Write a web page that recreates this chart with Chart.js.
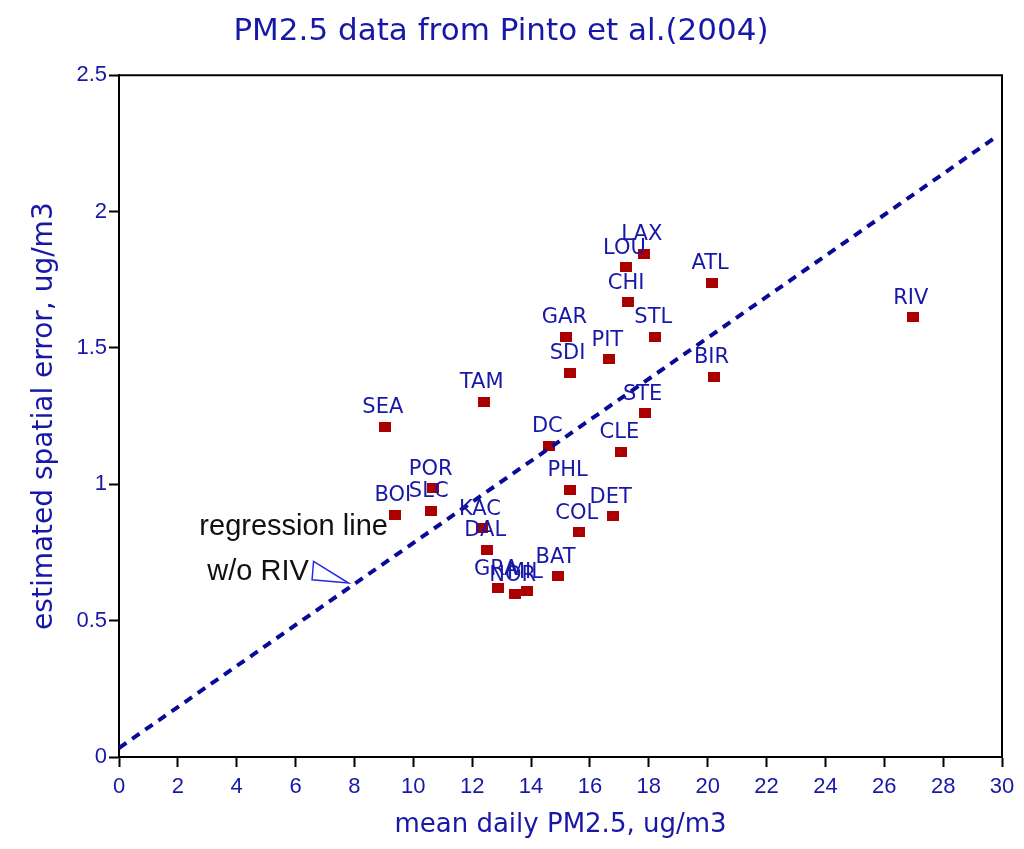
<!DOCTYPE html>
<html><head><meta charset="utf-8">
<script src="https://cdn.jsdelivr.net/npm/chart.js@4.4.1/dist/chart.umd.min.js"></script>
<style>html,body{margin:0;padding:0;background:#fff;}canvas{display:block;}</style>
</head><body>
<canvas id="c" width="1024" height="849"></canvas>
<script>
// ---- data ----
const cities = ['SEA','TAM','DC','POR','BOI','SLC','KAC','DAL','GRA','NOR','MIL','BAT','COL','DET','PHL','CLE','STE','BIR','PIT','SDI','GAR','STL','CHI','LOU','LAX','ATL','RIV'];
const meanPM = [9.03,12.39,14.62,10.66,9.37,10.59,12.33,12.51,12.88,13.44,13.86,14.90,15.62,16.77,15.31,17.07,17.86,20.20,16.66,15.31,15.20,18.22,17.30,17.24,17.83,20.15,26.97];
const spatialErr = [1.211,1.303,1.141,0.986,0.888,0.903,0.839,0.760,0.619,0.597,0.607,0.662,0.824,0.882,0.980,1.120,1.260,1.395,1.458,1.409,1.541,1.541,1.668,1.795,1.845,1.739,1.612];
const regX = [0, 29.75];
const regY = [0.033, 2.27];
const xTicks = [0,2,4,6,8,10,12,14,16,18,20,22,24,26,28,30];
const yTicks = [0,0.5,1,1.5,2,2.5];
const titleText = 'PM2.5 data from Pinto et al.(2004)';
const xTitle = 'mean daily PM2.5, ug/m3';
const yTitle = 'estimated spatial error, ug/m3';
const noteLines = ['regression line', 'w/o RIV'];

// ---- styles ----
const BLUE = '#1818a8';
const RED = '#aa0000';
const LINE = '#0a0a98';
Chart.defaults.font.family = "'DejaVu Sans', sans-serif";
Chart.defaults.color = BLUE;

const marker = document.createElement('canvas');
marker.width = 12; marker.height = 10;
(function(){ const g = marker.getContext('2d'); g.fillStyle = RED; g.fillRect(0,0,12,10); })();

const pointsData = meanPM.map((x,i)=>({x:x, y:spatialErr[i]}));
const regData = regX.map((x,i)=>({x:x, y:regY[i]}));

const framePlugin = {
  id:'frame',
  beforeDatasetsDraw(chart){
    const a = chart.chartArea, ctx = chart.ctx;
    ctx.save();
    ctx.strokeStyle = '#000'; ctx.lineWidth = 2;
    ctx.beginPath();
    ctx.moveTo(a.left, a.top); ctx.lineTo(a.right, a.top); ctx.lineTo(a.right, a.bottom);
    ctx.stroke();
    ctx.restore();
  }
};

const labelPlugin = {
  id:'pointLabels',
  afterDatasetsDraw(chart){
    const meta = chart.getDatasetMeta(1);
    const ctx = chart.ctx;
    ctx.save();
    ctx.font = "21px 'DejaVu Sans'";
    ctx.fillStyle = BLUE;
    ctx.textAlign = 'center';
    ctx.textBaseline = 'middle';
    meta.data.forEach((p,i)=>{ ctx.fillText(cities[i], p.x - 2, p.y - 19); });
    ctx.restore();
  }
};

const notePlugin = {
  id:'note',
  afterDatasetsDraw(chart){
    const xs = chart.scales.x, ys = chart.scales.y, ctx = chart.ctx;
    ctx.save();
    ctx.font = "29px 'Liberation Sans'";
    ctx.fillStyle = '#111';
    ctx.textAlign = 'left';
    ctx.textBaseline = 'middle';
    ctx.fillText(noteLines[0], xs.getPixelForValue(2.73), ys.getPixelForValue(0.844));
    ctx.fillText(noteLines[1], xs.getPixelForValue(3.0), ys.getPixelForValue(0.679));
    ctx.strokeStyle = '#2a2ae0'; ctx.lineWidth = 1.5;
    ctx.beginPath();
    ctx.moveTo(xs.getPixelForValue(6.61), ys.getPixelForValue(0.717));
    ctx.lineTo(xs.getPixelForValue(7.80), ys.getPixelForValue(0.638));
    ctx.lineTo(xs.getPixelForValue(6.56), ys.getPixelForValue(0.650));
    ctx.closePath();
    ctx.stroke();
    ctx.restore();
  }
};

new Chart(document.getElementById('c'), {
  type:'scatter',
  data:{
    datasets:[
      { type:'line', label:'regression', data:regData, showLine:true, borderColor:LINE, borderWidth:4,
        borderDash:[9,7], pointRadius:0, fill:false, order:0 },
      { label:'cities', data:pointsData, pointStyle:marker, pointRadius:6, order:1 }
    ]
  },
  options:{
    responsive:false, animation:false, devicePixelRatio:1,
    layout:{padding:{left:0, right:22, top:0, bottom:0}},
    plugins:{
      legend:{display:false}, tooltip:{enabled:false},
      title:{display:true, text:titleText, color:BLUE, font:{size:31, weight:'normal'}, padding:{top:13, bottom:25}}
    },
    scales:{
      x:{type:'linear', min:0, max:30,
        afterBuildTicks(s){ s.ticks = xTicks.map(v=>({value:v})); },
        afterFit(s){ s.height = 92; },
        grid:{drawOnChartArea:false, drawTicks:true, tickLength:10, tickColor:'#000', tickWidth:2},
        border:{display:true, color:'#000', width:2},
        ticks:{color:BLUE, font:{size:22, family:"'Liberation Sans'"}, padding:7, maxRotation:0, callback:v=>String(v)},
        title:{display:true, text:xTitle, color:BLUE, font:{size:26}, padding:{top:0, bottom:8}}
      },
      y:{type:'linear', min:0, max:2.5,
        afterBuildTicks(s){ s.ticks = yTicks.map(v=>({value:v})); },
        afterFit(s){ s.width = 119; },
        grid:{drawOnChartArea:false, drawTicks:true, tickLength:10, tickColor:'#000', tickWidth:2},
        border:{display:true, color:'#000', width:2},
        ticks:{color:BLUE, font:{size:22, family:"'Liberation Sans'"}, padding:2, callback:v=>String(v)},
        title:{display:true, text:yTitle, color:BLUE, font:{size:28}, padding:{top:28, bottom:0}}
      }
    }
  },
  plugins:[framePlugin, labelPlugin, notePlugin]
});
</script>
</body></html>
